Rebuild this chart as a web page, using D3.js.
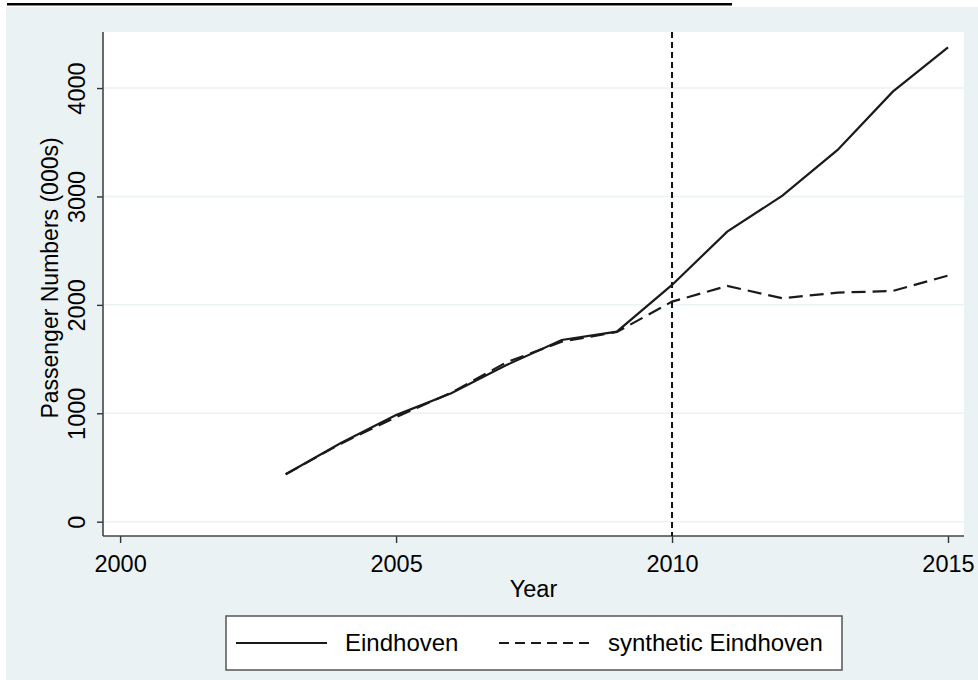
<!DOCTYPE html>
<html>
<head>
<meta charset="utf-8">
<script src="https://cdn.jsdelivr.net/npm/d3@7"></script>
<style>
  body { margin: 0; background: #fff; }
  svg { display: block; font-family: "Liberation Sans", Arial, sans-serif; }
</style>
</head>
<body>
<svg width="978" height="680"></svg>
<script>
var years = [2003, 2004, 2005, 2006, 2007, 2008, 2009, 2010, 2011, 2012, 2013, 2014, 2015]
var eindhoven = [437, 726, 983, 1184, 1445, 1676, 1753, 2184, 2675, 3008, 3429, 3967, 4376]
var synthetic = [437, 720, 965, 1190, 1470, 1660, 1750, 2030, 2174, 2061, 2113, 2128, 2270]
var yTicks = [0, 1000, 2000, 3000, 4000]
var xTicks = [2000, 2005, 2010, 2015]
var treatYear = 2010

var svg = d3.select('svg')
var width = 978, height = 680
var margin = ({top: 32, right: 14, bottom: 144, left: 103})

// cut-off caption underline at the very top
svg.append('rect').attr('x', 7).attr('y', 3).attr('width', 725).attr('height', 2.5).attr('fill', '#000')

// graph background
svg.append('rect')
    .attr('x', 6).attr('y', 7)
    .attr('width', width - 6).attr('height', height - 7)
    .attr('fill', '#eaf2f3')

var x = d3.scaleLinear()
    .domain([1999.69, 2015.29])
    .range([margin.left, width - margin.right])

var y = d3.scaleLinear()
    .domain([-132, 4517])
    .range([height - margin.bottom, margin.top])

// plot region
svg.append('rect')
    .attr('x', margin.left).attr('y', margin.top)
    .attr('width', width - margin.right - margin.left)
    .attr('height', height - margin.bottom - margin.top)
    .attr('fill', '#fff')

// grid
svg.append('g').selectAll('line').data(yTicks)
    .enter().append('line')
    .attr('x1', margin.left).attr('x2', width - margin.right)
    .attr('y1', d => y(d)).attr('y2', d => y(d))
    .attr('stroke', '#eaf2f3').attr('stroke-width', 1.5)

var yAxis = svg.append('g')
    .attr('transform', `translate(${margin.left},0)`)
    .call(d3.axisLeft(y).tickValues(yTicks).tickSize(6).tickSizeOuter(0).tickFormat(d3.format('d')))
yAxis.select('.domain').remove()
yAxis.append('line')
    .attr('y1', margin.top).attr('y2', height - margin.bottom)
    .attr('stroke', '#444').attr('stroke-width', 1.6)
yAxis.selectAll('.tick line').attr('stroke', '#333').attr('stroke-width', 1.4)
yAxis.selectAll('.tick text')
    .attr('x', 0).attr('dy', 0)
    .attr('transform', 'translate(-18,0) rotate(-90)')
    .attr('text-anchor', 'middle')
    .attr('fill', '#000')
    .attr('font-size', '23.5px')
    .attr('font-family', '"Liberation Sans", Arial, sans-serif')

var xAxis = svg.append('g')
    .attr('transform', `translate(0,${height - margin.bottom})`)
    .call(d3.axisBottom(x).tickValues(xTicks).tickSize(7).tickSizeOuter(0).tickFormat(d3.format('d')))
xAxis.select('.domain').remove()
xAxis.append('line')
    .attr('x1', margin.left).attr('x2', width - margin.right)
    .attr('stroke', '#444').attr('stroke-width', 1.6)
xAxis.selectAll('.tick line').attr('stroke', '#333').attr('stroke-width', 1.4)
xAxis.selectAll('.tick text')
    .attr('y', 36).attr('dy', 0)
    .attr('fill', '#000')
    .attr('font-size', '23.5px')
    .attr('font-family', '"Liberation Sans", Arial, sans-serif')

// axis titles
svg.append('text')
    .attr('transform', 'translate(58,278) rotate(-90)')
    .attr('text-anchor', 'middle')
    .attr('font-size', '23px')
    .text('Passenger Numbers (000s)')

svg.append('text')
    .attr('x', (margin.left + width - margin.right) / 2)
    .attr('y', 597)
    .attr('text-anchor', 'middle')
    .attr('font-size', '23.5px')
    .text('Year')

// treatment line
svg.append('line')
    .attr('x1', x(treatYear)).attr('x2', x(treatYear))
    .attr('y1', margin.top).attr('y2', height - margin.bottom)
    .attr('stroke', '#111').attr('stroke-width', 2)
    .attr('stroke-dasharray', '6,4')

var line = d3.line()
    .x((d, i) => x(years[i]))
    .y(d => y(d))

svg.append('path').datum(synthetic)
    .attr('d', line)
    .attr('fill', 'none')
    .attr('stroke', '#1a1a1a').attr('stroke-width', 2.2)
    .attr('stroke-dasharray', '14,7')

svg.append('path').datum(eindhoven)
    .attr('d', line)
    .attr('fill', 'none')
    .attr('stroke', '#1a1a1a').attr('stroke-width', 2.2)

// legend
var legend = svg.append('g')
legend.append('rect')
    .attr('x', 226).attr('y', 616).attr('width', 616).attr('height', 54)
    .attr('fill', '#fff').attr('stroke', '#555').attr('stroke-width', 1.5)
var legendEntries = [
    {label: 'Eindhoven', dash: null, x: 236},
    {label: 'synthetic Eindhoven', dash: '10,6', x: 499}
]
legend.selectAll('line.sample').data(legendEntries)
    .enter().append('line')
    .attr('x1', d => d.x).attr('x2', d => d.x + 91)
    .attr('y1', 643).attr('y2', 643)
    .attr('stroke', '#1a1a1a').attr('stroke-width', 2.2)
    .attr('stroke-dasharray', d => d.dash)
legend.selectAll('text').data(legendEntries)
    .enter().append('text')
    .attr('x', d => d.x + 109)
    .attr('y', 651)
    .attr('font-size', '24px')
    .text(d => d.label)
</script>
</body>
</html>
